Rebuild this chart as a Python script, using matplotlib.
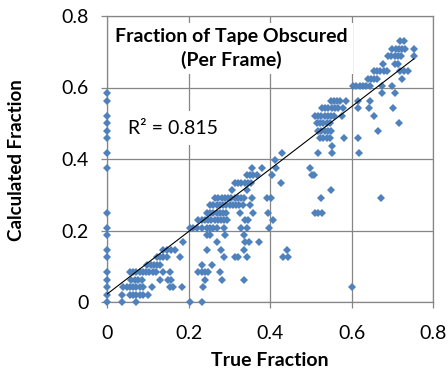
import matplotlib
matplotlib.use("Agg")
import matplotlib.pyplot as plt
import numpy as np

plt.rcParams['font.family'] = ['Lato', 'DejaVu Sans']

# Calculated fraction levels are multiples of 1/48; true fraction values per level
x_k35 = [0.720, 0.728]
x_k34 = [0.700, 0.708, 0.716, 0.724, 0.732, 0.753]
x_k33 = [0.690, 0.698, 0.706, 0.714, 0.722, 0.753]
x_k32 = [0.678, 0.707, 0.715]
x_k31 = [0.655, 0.663, 0.671, 0.679, 0.687, 0.720, 0.730, 0.738]
x_k30 = [0.640, 0.648, 0.656, 0.662, 0.724]
x_k29 = [0.604, 0.612, 0.620, 0.628, 0.636, 0.645, 0.674, 0.699]
x_k28 = [0.0, 0.676, 0.707]
x_k27 = [0.0, 0.549, 0.557, 0.565, 0.572, 0.586, 0.617, 0.645]
x_k26 = [0.527, 0.535, 0.543, 0.551, 0.559, 0.567, 0.578, 0.617, 0.643, 0.703]
x_k25 = [0.0, 0.510, 0.518, 0.526, 0.534, 0.542, 0.550, 0.558, 0.576, 0.656]
x_k24 = [0.0, 0.515, 0.523, 0.531, 0.539, 0.547, 0.717]
x_k23 = [0.0, 0.518, 0.526, 0.534, 0.542, 0.550, 0.666]
x_k22 = [0.0, 0.523, 0.531, 0.539, 0.547, 0.582, 0.617]
x_k21 = [0.553]
x_k20 = [0.0, 0.429, 0.519, 0.553, 0.618]
x_k19 = [0.413]
x_k18 = [0.0, 0.355, 0.380, 0.415, 0.497]
x_k17 = [0.343, 0.351, 0.359, 0.367, 0.404, 0.502, 0.507]
x_k16 = [0.314, 0.322, 0.330, 0.338, 0.346, 0.354, 0.427]
x_k15 = [0.306, 0.343, 0.550]
x_k14 = [0.265, 0.273, 0.281, 0.289, 0.297, 0.305, 0.313, 0.321, 0.329, 0.337,
         0.355, 0.392, 0.402, 0.525, 0.672]
x_k13 = [0.253, 0.261, 0.269, 0.277, 0.285, 0.293, 0.301, 0.309, 0.317, 0.325,
         0.333, 0.350]
x_k12 = [0.0, 0.245, 0.253, 0.261, 0.269, 0.277, 0.285, 0.293, 0.326, 0.359,
         0.396, 0.510, 0.519, 0.527]
x_k11 = [0.224, 0.232, 0.240, 0.248, 0.256, 0.264, 0.272, 0.280, 0.288, 0.294,
         0.339, 0.346, 0.407]
x_k10 = [0.0, 0.204, 0.212, 0.220, 0.232, 0.245, 0.253, 0.261, 0.269, 0.288,
         0.330, 0.343, 0.397]
x_k9 = [0.0, 0.245, 0.253, 0.290, 0.335]
x_k8 = [0.187, 0.269, 0.339, 0.349, 0.373]
x_k7 = [0.0, 0.138, 0.147, 0.157, 0.166, 0.245, 0.280, 0.335, 0.441]
x_k6 = [0.0, 0.122, 0.130, 0.138, 0.147, 0.178, 0.286, 0.314, 0.322, 0.343,
        0.433, 0.445]
x_k5 = [0.099, 0.107, 0.115, 0.123, 0.131, 0.232, 0.257]
x_k4 = [0.0, 0.056, 0.064, 0.072, 0.080, 0.088, 0.096, 0.104, 0.112, 0.120,
        0.137, 0.155, 0.224, 0.232, 0.240, 0.248, 0.278]
x_k3 = [0.0, 0.060, 0.068, 0.077, 0.085, 0.130, 0.150, 0.158, 0.240, 0.281, 0.335]
x_k2 = [0.0, 0.040, 0.048, 0.056, 0.064, 0.072, 0.080, 0.088, 0.110, 0.155,
        0.163, 0.183, 0.236, 0.602]
x_k1 = [0.0, 0.036, 0.056, 0.064, 0.072, 0.081, 0.089, 0.101]
x_k0 = [0.0, 0.036, 0.071, 0.204, 0.232]

levels = [35, 34, 33, 32, 31, 30, 29, 28, 27, 26, 25, 24, 23, 22, 21, 20, 19, 18,
          17, 16, 15, 14, 13, 12, 11, 10, 9, 8, 7, 6, 5, 4, 3, 2, 1, 0]
rows = [x_k35, x_k34, x_k33, x_k32, x_k31, x_k30, x_k29, x_k28, x_k27, x_k26,
        x_k25, x_k24, x_k23, x_k22, x_k21, x_k20, x_k19, x_k18, x_k17, x_k16,
        x_k15, x_k14, x_k13, x_k12, x_k11, x_k10, x_k9, x_k8, x_k7, x_k6, x_k5,
        x_k4, x_k3, x_k2, x_k1, x_k0]
level_step = 1 / 48

trend_intercept = 0.022
trend_slope = 0.874
r2_text = "R² = 0.815"

x_ticks = [0, 0.2, 0.4, 0.6, 0.8]
x_tick_labels = ["0", "0.2", "0.4", "0.6", "0.8"]
y_ticks = [0, 0.2, 0.4, 0.6, 0.8]
y_tick_labels = ["0", "0.2", "0.4", "0.6", "0.8"]

true_frac = []
calc_frac = []
for k, xs in zip(levels, rows):
    for xv in xs:
        true_frac.append(xv)
        calc_frac.append(k * level_step)
true_frac = np.array(true_frac)
calc_frac = np.array(calc_frac)

W, H = 448, 372
fig = plt.figure(figsize=(W / 100, H / 100), dpi=100)
ax = fig.add_axes([107 / W, 1 - 302 / H, 326 / W, 286 / H])

grid_c = '#868686'
ax.set_xlim(0, 0.8)
ax.set_ylim(0, 0.8)
ax.set_xticks(x_ticks)
ax.set_xticklabels(x_tick_labels)
ax.set_yticks(y_ticks)
ax.set_yticklabels(y_tick_labels)
ax.grid(True, color=grid_c, linewidth=0.9, zorder=0)
ax.set_axisbelow(True)
for s in ax.spines.values():
    s.set_color(grid_c)
    s.set_linewidth(0.9)
ax.tick_params(axis='both', direction='out', length=4.5, width=0.9, color=grid_c,
               labelsize=14, labelcolor='black')
ax.tick_params(axis='x', pad=12)
ax.tick_params(axis='y', pad=9)

ax.plot(true_frac, calc_frac, linestyle='none', marker='D', markersize=4.3,
        color='#4F81BD', markeredgewidth=0, clip_on=False, zorder=3)

xt = np.array([0, true_frac.max()])
ax.plot(xt, trend_intercept + trend_slope * xt, color='black', linewidth=0.8, zorder=4)

fig.text(231 / W, 1 - 48.5 / H, "Fraction of Tape Obscured\n(Per Frame)",
         ha='center', va='center', fontsize=14, fontweight='bold', linespacing=1.35,
         bbox=dict(facecolor='white', edgecolor='none', pad=4), zorder=5)
fig.text(173 / W, 1 - 128 / H, r2_text, ha='center', va='center', fontsize=14,
         bbox=dict(facecolor='white', edgecolor='none', pad=6), zorder=5)

fig.text(270 / W, 1 - 360 / H, "True Fraction", ha='center', va='center',
         fontsize=14, fontweight='bold')
fig.text(17 / W, 1 - 160 / H, "Calculated Fraction", ha='center', va='center',
         rotation=90, fontsize=13.5, fontweight='bold')

fig.savefig("out.png", dpi=100)
